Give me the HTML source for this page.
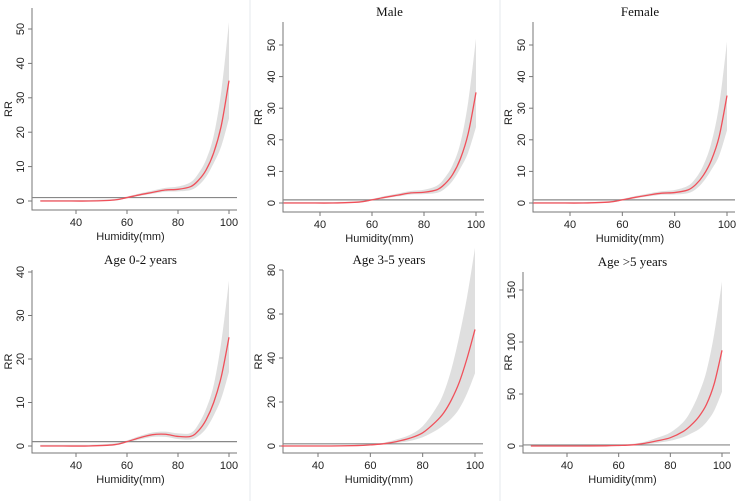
<!DOCTYPE html>
<html><head><meta charset="utf-8"><style>
body{margin:0;background:#fff;width:750px;height:501px;overflow:hidden}
svg{display:block}
text{font-family:"Liberation Sans",sans-serif;fill:#222}
.t{font-family:"Liberation Serif",serif;fill:#111;font-size:13px}
</style></head><body>
<svg id="c" width="750" height="501"></svg>
<script>
const xs=[26,35,45,55,60,65,70,75,80,85,88,91,94,97,100];
const est1=[0,0,0,0.3,1,1.8,2.5,3.2,3.4,4.2,6,9,14,22,35];
const up1=[0.3,0.3,0.3,0.6,1.3,2.2,3,3.8,4.2,5.5,8,12,19,32,52];
const lo1=[0,0,0,0.1,0.8,1.5,2.1,2.7,2.8,3.2,4.5,7,11,16,24];
const est2=[0,0,0,0.3,1,1.8,2.5,3.2,3.4,4.2,6,9,14,22,35];
const up2=[0.3,0.3,0.3,0.6,1.3,2.2,3,3.8,4.2,5.5,8,12,19,32,52];
const lo2=[0,0,0,0.1,0.8,1.5,2.1,2.7,2.8,3.2,4.5,7,11,16,24];
const est3=[0,0,0,0.3,1,1.8,2.5,3.1,3.3,4.1,5.8,8.8,13.5,21,34];
const up3=[0.3,0.3,0.3,0.6,1.3,2.2,3,3.7,4.1,5.4,7.8,12,19,31,51];
const lo3=[0,0,0,0.1,0.8,1.5,2.1,2.6,2.7,3.1,4.3,6.8,10.5,15,23];
const est4=[0,0,0,0.3,1,1.9,2.6,2.7,2.2,2.2,3.5,6,10,16,25];
const up4=[0.3,0.3,0.3,0.6,1.3,2.3,3.1,3.3,2.9,3,5,8.5,14,24,38];
const lo4=[0,0,0,0.1,0.8,1.5,2.1,2.1,1.6,1.5,2.3,4,7,11,17];
const est5=[0,0,0,0.2,0.5,1,2,3.5,6,11,15,21,29,40,53];
const up5=[0.3,0.3,0.3,0.5,0.8,1.5,3,5,9,17,24,35,50,68,90];
const lo5=[0,0,0,0.1,0.3,0.7,1.4,2.3,4,7,9.5,12.5,17,24,33];
const est6=[0,0,0,0.2,0.5,1,2.5,5,8,14,20,28,40,60,92];
const up6=[0.5,0.5,0.5,0.8,1.2,2,4,8,13,23,34,50,72,108,158];
const lo6=[0,0,0,0.1,0.3,0.6,1.5,3,5,8.5,12,16,23,34,52];
const panels=[
 {ox:0,title:"",ax:32,bot:210,y0:201,ppu:3.44,x40:76,x100:229,yt:[0,10,20,30,40,50],top:8,e:est1,u:up1,l:lo1},
 {ox:250,title:"Male",ax:283,bot:212,y0:203,ppu:3.16,x40:320,x100:476,yt:[0,10,20,30,40,50],top:22,e:est2,u:up2,l:lo2},
 {ox:500,title:"Female",ax:533,bot:212,y0:203,ppu:3.16,x40:570,x100:727,yt:[0,10,20,30,40,50],top:22,e:est3,u:up3,l:lo3},
 {ox:0,title:"Age 0-2 years",ax:32,bot:453,y0:446,ppu:4.35,x40:76,x100:229,yt:[0,10,20,30,40],top:270,e:est4,u:up4,l:lo4},
 {ox:250,title:"Age 3-5 years",ax:283,bot:453,y0:446,ppu:2.2,x40:318,x100:475,yt:[0,20,40,60,80],top:270,e:est5,u:up5,l:lo5},
 {ox:500,title:"Age >5 years",ax:523,bot:453,y0:446,ppu:1.04,x40:567,x100:722,yt:[0,50,100,150],top:272,e:est6,u:up6,l:lo6}
];
const svg=document.getElementById('c');const NS='http://www.w3.org/2000/svg';
function mk(t,a,p){const e=document.createElementNS(NS,t);for(const k in a)e.setAttribute(k,a[k]);(p||svg).appendChild(e);return e;}
function path(pts){let d='M'+pts[0][0]+','+pts[0][1];for(let i=0;i<pts.length-1;i++){const p0=pts[i-1]||pts[i],p1=pts[i],p2=pts[i+1],p3=pts[i+2]||p2;d+=' C'+(p1[0]+(p2[0]-p0[0])/6)+','+(p1[1]+(p2[1]-p0[1])/6)+' '+(p2[0]-(p3[0]-p1[0])/6)+','+(p2[1]-(p3[1]-p1[1])/6)+' '+p2[0]+','+p2[1];}return d;}
mk('line',{x1:250,y1:0,x2:250,y2:501,stroke:'#e4e8ec'});
mk('line',{x1:500,y1:0,x2:500,y2:501,stroke:'#e4e8ec'});
panels.forEach((P,i)=>{
 const g=mk('g',{});
 
 
 const X=v=>P.x40+(v-40)*(P.x100-P.x40)/60, Y=v=>P.y0-v*P.ppu;
 const ax=mk('path',{d:`M${P.ax},${P.top} V${P.bot} H${P.x100+8}`,fill:'none',stroke:'#777','stroke-width':1},g);
 
 P.yt.forEach(v=>{mk('line',{x1:P.ax-4,x2:P.ax,y1:Y(v),y2:Y(v),stroke:'#777'},g);
  mk('text',{x:P.ax-8,y:Y(v),'font-size':11,transform:`rotate(-90 ${P.ax-8} ${Y(v)})`,'text-anchor':'middle'},g).textContent=v;});
 [40,60,80,100].forEach(v=>{mk('line',{x1:X(v),x2:X(v),y1:P.bot,y2:P.bot+4,stroke:'#777'},g);
  mk('text',{x:X(v),y:P.bot+16,'font-size':11,'text-anchor':'middle'},g).textContent=v;});
 const xt=mk('text',{x:(P.ax+P.x100)/2,y:P.bot+30,'font-size':11,'text-anchor':'middle'},g);xt.textContent='Humidity(mm)';
 
 const ytt=mk('text',{x:P.ox+12,y:(P.top+P.bot)/2,'font-size':11,'text-anchor':'middle',transform:`rotate(-90 ${P.ox+12} ${(P.top+P.bot)/2})`},g);ytt.textContent='RR';
 
 if(P.title){const t=mk('text',{x:(P.ax+P.x100)/2+10,y:P.top-6,'text-anchor':'middle',class:'t'},g);t.textContent=P.title;
  }
 const up=xs.map((x,k)=>[X(x),Y(P.u[k])]),lo=xs.map((x,k)=>[X(x),Y(P.l[k])]).reverse();
 const band=mk('path',{d:path(up)+' L'+path(lo).slice(1)+'Z',fill:'#d9d9d9',opacity:0.85},g);
 
 const ref=mk('line',{x1:P.ax,x2:P.x100+8,y1:Y(1),y2:Y(1),stroke:'#888','stroke-width':1.2},g);
 
 const ln=mk('path',{d:path(xs.map((x,k)=>[X(x),Y(P.e[k])])),fill:'none',stroke:'#f0505a','stroke-width':1.3},g);
 
});
</script></body></html>
